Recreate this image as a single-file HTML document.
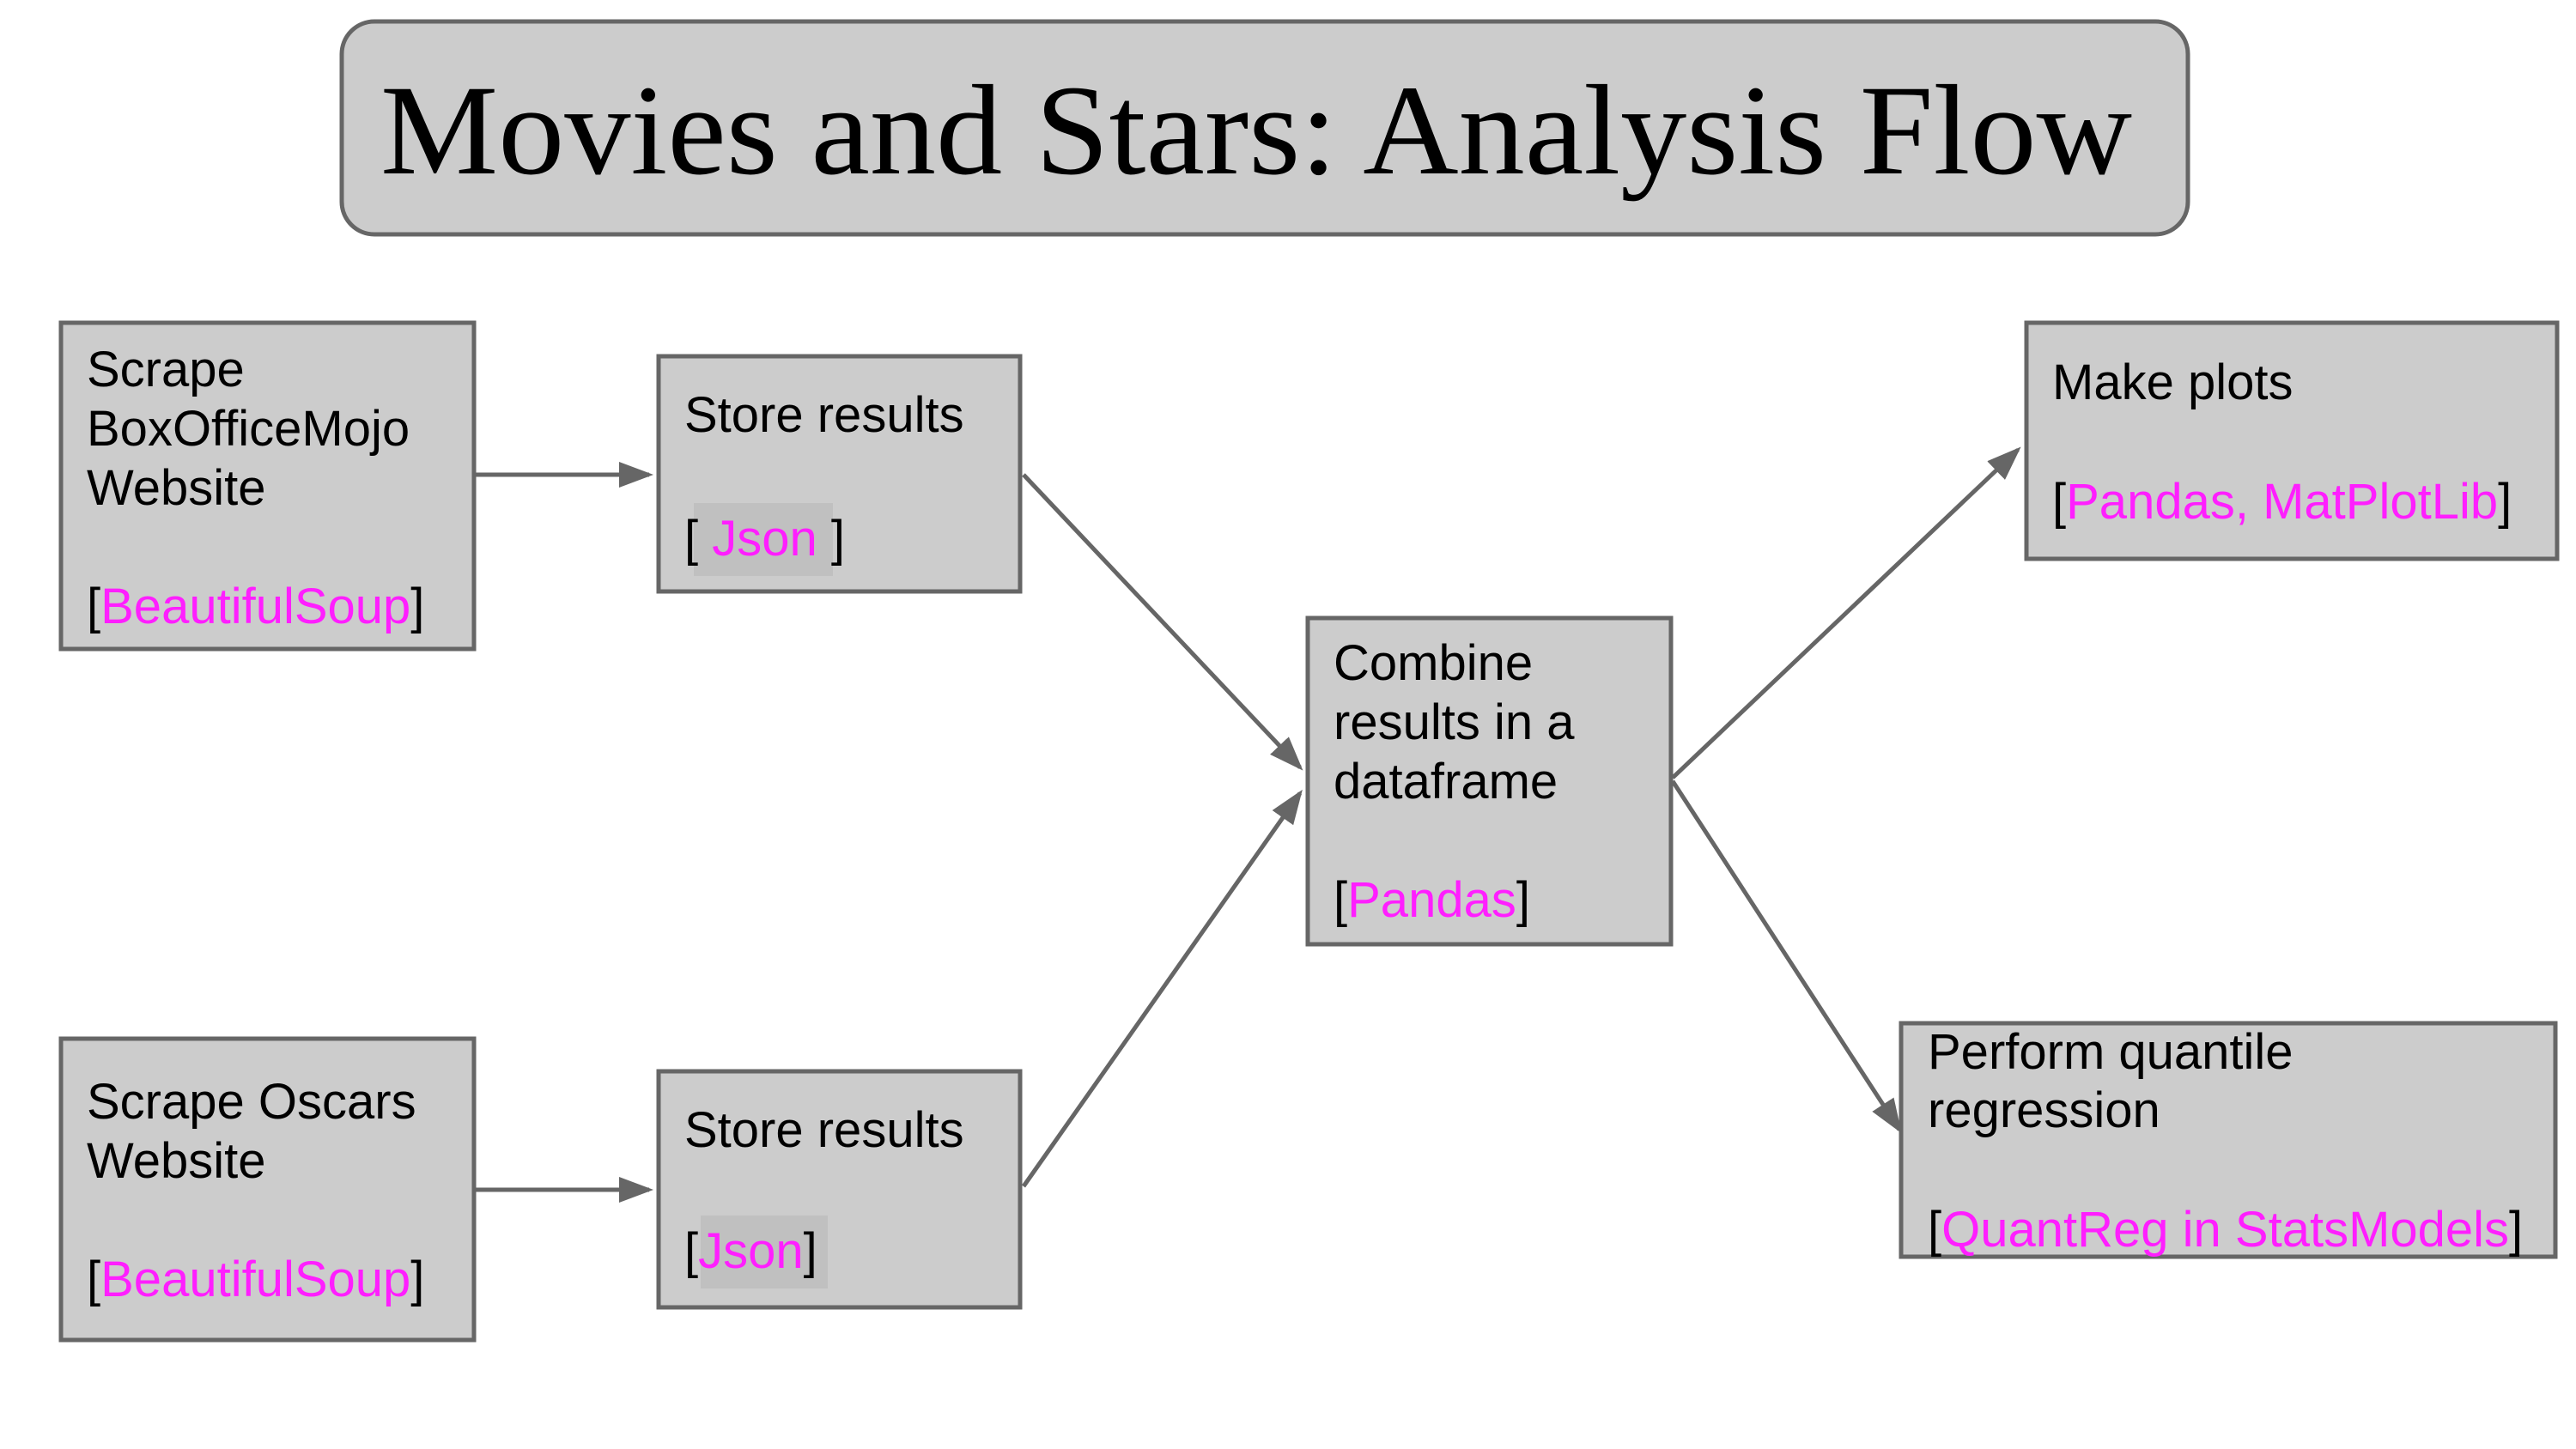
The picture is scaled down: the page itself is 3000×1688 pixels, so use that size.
<!DOCTYPE html>
<html><head><meta charset="utf-8"><style>
html,body{margin:0;padding:0;background:#fff;}
svg{display:block;}
.t{font-family:"Liberation Sans",Arial,sans-serif;font-size:58px;fill:#000;}
.m{fill:#ff1eff;}
.bx{fill:#cccccc;stroke:#666;stroke-width:5;}
.ln{stroke:#666;stroke-width:5;fill:none;}
</style></head><body>
<svg width="3000" height="1688" viewBox="0 0 3000 1688" xmlns="http://www.w3.org/2000/svg">
<defs>
<marker id="a" markerWidth="8" markerHeight="6" refX="7" refY="3" orient="auto" markerUnits="strokeWidth">
<path d="M0,0 L8,3 L0,6 z" fill="#666"/></marker>
</defs>
<rect x="398" y="25" width="2150" height="248" rx="38" fill="#cccccc" stroke="#666" stroke-width="5"/>
<text x="443" y="202" font-family="Liberation Serif, serif" font-size="150" textLength="2040" lengthAdjust="spacingAndGlyphs">Movies and Stars: Analysis Flow</text>

<line class="ln" x1="553" y1="553" x2="756" y2="553" marker-end="url(#a)"/>
<line class="ln" x1="553" y1="1386" x2="756" y2="1386" marker-end="url(#a)"/>
<line class="ln" x1="1192" y1="553" x2="1514" y2="894" marker-end="url(#a)"/>
<line class="ln" x1="1192" y1="1382" x2="1514" y2="924" marker-end="url(#a)"/>
<line class="ln" x1="1948" y1="906" x2="2350" y2="524" marker-end="url(#a)"/>
<line class="ln" x1="1948" y1="910" x2="2212" y2="1316" marker-end="url(#a)"/>

<rect class="bx" x="71" y="376" width="481" height="380"/>
<text class="t" x="101" y="450">Scrape</text>
<text class="t" x="101" y="519">BoxOfficeMojo</text>
<text class="t" x="101" y="588">Website</text>
<text class="t" x="101" y="726">[<tspan class="m">BeautifulSoup</tspan>]</text>

<rect class="bx" x="767" y="415" width="421" height="274"/>
<text class="t" x="797" y="503">Store results</text>
<rect x="808" y="586" width="162" height="85" fill="#c0c0c0"/>
<text class="t" x="797" y="647">[<tspan class="m"> Json</tspan> ]</text>

<rect class="bx" x="71" y="1210" width="481" height="351"/>
<text class="t" x="101" y="1303">Scrape Oscars</text>
<text class="t" x="101" y="1372">Website</text>
<text class="t" x="101" y="1510">[<tspan class="m">BeautifulSoup</tspan>]</text>

<rect class="bx" x="767" y="1248" width="421" height="275"/>
<text class="t" x="797" y="1336">Store results</text>
<rect x="816" y="1416" width="148" height="85" fill="#c0c0c0"/>
<text class="t" x="797" y="1477">[<tspan class="m">Json</tspan>]</text>

<rect class="bx" x="1523" y="720" width="423" height="380"/>
<text class="t" x="1553" y="792">Combine</text>
<text class="t" x="1553" y="861">results in a</text>
<text class="t" x="1553" y="930">dataframe</text>
<text class="t" x="1553" y="1068">[<tspan class="m">Pandas</tspan>]</text>

<rect class="bx" x="2360" y="376" width="618" height="275"/>
<text class="t" x="2390" y="465">Make plots</text>
<text class="t" x="2390" y="604">[<tspan class="m">Pandas, MatPlotLib</tspan>]</text>

<rect class="bx" x="2214" y="1192" width="762" height="272"/>
<text class="t" x="2245" y="1245">Perform quantile</text>
<text class="t" x="2245" y="1313">regression</text>
<text class="t" x="2245" y="1452">[<tspan class="m">QuantReg in StatsModels</tspan>]</text>
</svg>
</body></html>
